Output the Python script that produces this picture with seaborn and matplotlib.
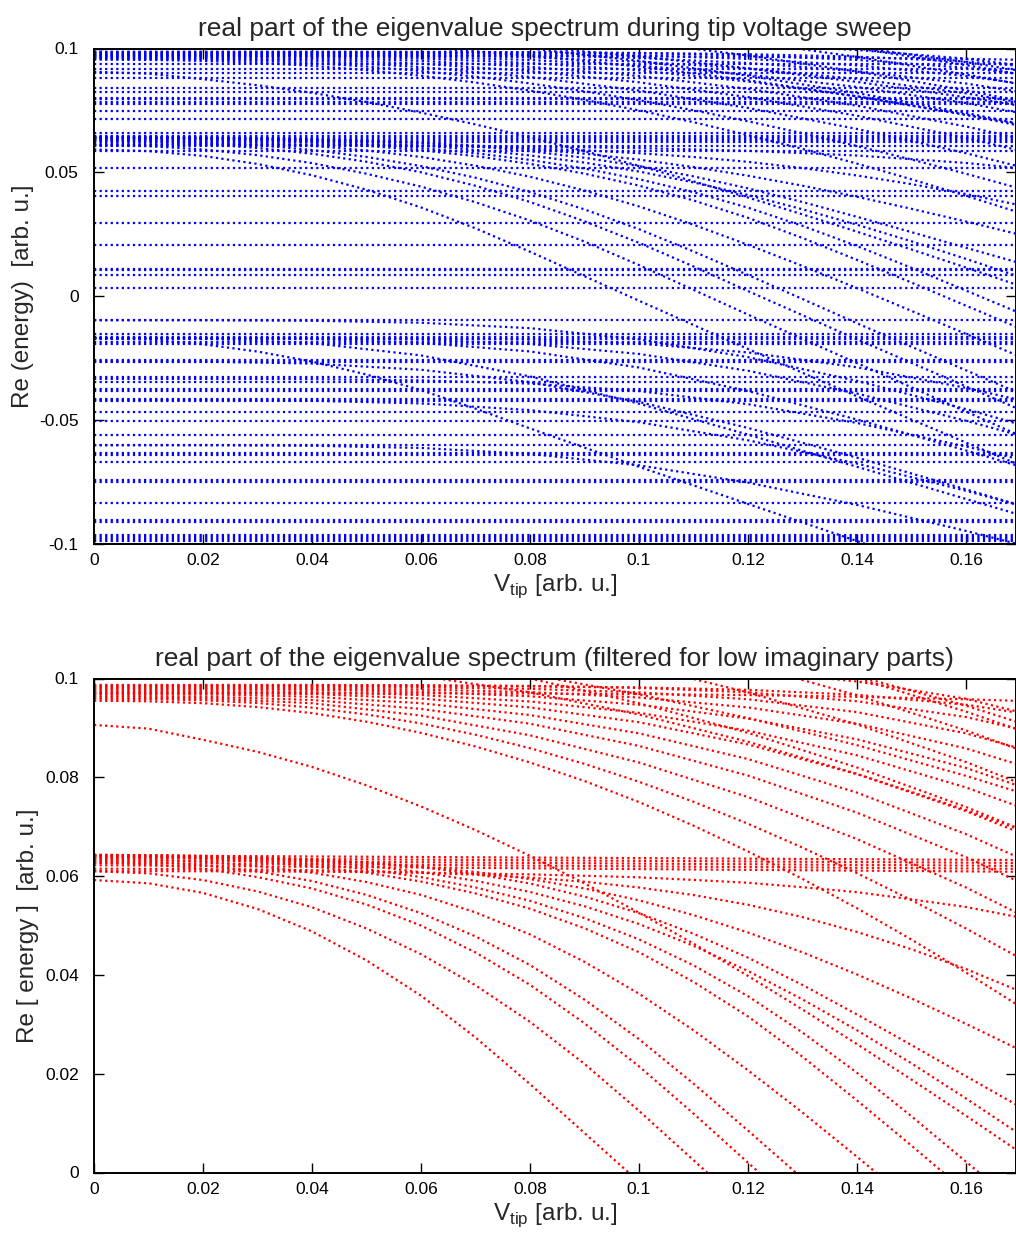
import matplotlib
matplotlib.use("Agg")
import matplotlib.pyplot as plt
import numpy as np
import pandas as pd
import seaborn as sns

# Tip voltage grids on which the branch energies are tabulated
V_FINE = [0.00, 0.01, 0.02, 0.03, 0.04, 0.05, 0.06, 0.07, 0.08, 0.09,
          0.10, 0.11, 0.12, 0.13, 0.14, 0.15, 0.16, 0.17, 0.18]
V_COARSE = [0.00, 0.02, 0.04, 0.06, 0.08, 0.10, 0.12, 0.14, 0.16, 0.18]
V_SPAN = [0.00, 0.18]

# Energies below are in units of 1e-3 arb. u.

# strongly bending branches of the upper cluster (fine grid)
upper_steep = [
    [90.6, 89.85, 87.6, 85.16, 82.1, 78.38, 74.1, 69.32, 64.1, 58.53,
     52.6, 46.34, 39.8, 33.0, 26.0, 18.82, 11.5, 4.03, -3.5],
    [95.5, 95.38, 95.0, 94.22, 93.0, 91.25, 89.0, 86.25, 83.0, 79.25,
     75.0, 70.22, 65.0, 59.44, 53.5, 47.16, 40.5, 33.56, 26.5],
    [95.9, 95.82, 95.6, 95.03, 94.1, 92.72, 90.9, 88.62, 85.9, 82.72,
     79.1, 75.05, 70.6, 65.77, 60.6, 55.14, 49.4, 43.36, 37.2],
]

# gently bending branches of the upper cluster and levels entering from above (coarse grid)
upper_gentle = [
    [96.2, 96.0, 95.0, 92.5, 88.5, 83.0, 76.0, 67.5, 57.7, 46.7],
    [96.5, 96.35, 95.65, 93.85, 90.85, 86.35, 80.35, 72.85, 63.85, 53.55],
    [96.9, 96.8, 96.3, 95.0, 92.6, 88.9, 83.7, 76.9, 68.5, 58.7],
    [97.2, 97.15, 96.85, 95.95, 94.15, 91.15, 86.65, 80.65, 73.15, 64.35],
    [97.5, 97.45, 97.25, 96.65, 95.35, 93.05, 89.45, 84.45, 77.95, 69.95],
    [97.8, 97.8, 97.7, 97.3, 96.4, 94.7, 91.9, 87.7, 81.9, 74.4],
    [98.0, 98.0, 97.95, 97.75, 97.25, 96.15, 94.15, 90.85, 85.85, 79.05],
    [98.3, 98.3, 98.3, 98.2, 97.9, 97.2, 95.8, 93.2, 88.9, 82.7],
    [98.7, 98.7, 98.7, 98.65, 98.5, 98.1, 97.2, 95.4, 92.2, 87.2],
    [98.5, 98.5, 98.5, 98.5, 98.4, 98.2, 97.7, 96.7, 94.7, 91.3],
    [97.0, 97.0, 97.0, 97.0, 96.95, 96.85, 96.65, 96.3, 95.8, 95.1],
    [106.0, 105.8, 105.4, 104.8, 104.0, 103.0, 101.6, 99.4, 95.9, 90.4],
    [110.0, 109.0, 107.0, 104.0, 100.0, 95.0, 89.0, 82.0, 74.0, 65.0],
    [115.0, 114.2, 112.6, 110.2, 106.9, 102.6, 97.2, 90.7, 83.1, 74.4],
    [120.0, 119.2, 117.7, 115.4, 112.2, 108.0, 102.8, 96.6, 89.5, 81.5],
    [108.0, 107.5, 106.2, 104.0, 100.8, 96.8, 92.0, 86.5, 80.3, 73.5],
    [104.0, 103.7, 102.7, 100.5, 97.2, 92.7, 87.2, 80.7, 73.4, 65.4],
    [125.0, 124.0, 122.1, 119.3, 115.7, 111.3, 106.1, 100.1, 93.3, 85.7],
    [118.0, 117.5, 116.5, 114.9, 112.6, 109.5, 105.5, 100.5, 94.5, 87.5],
]

# branches emerging from the lower cluster (~0.063), fine grid
lower_branches = [
    [59.2, 58.55, 56.6, 53.35, 48.8, 42.95, 35.8, 27.35, 17.9, 8.0,
     -1.9, -11.7, -21.4, -31.0, -40.5, -49.9, -59.2, -68.4, -77.5],
    [61.0, 60.55, 59.2, 56.9, 53.7, 49.4, 44.2, 37.9, 30.5, 22.0,
     12.5, 2.5, -7.5, -17.3, -27.1, -36.9, -46.7, -56.5, -66.3],
    [62.7, 62.4, 61.5, 59.8, 57.5, 54.25, 50.0, 44.55, 38.0, 30.2,
     21.5, 11.95, 2.0, -7.75, -17.5, -27.0, -36.5, -46.0, -55.5],
    [63.1, 62.9, 62.2, 60.95, 59.0, 56.2, 52.5, 47.8, 42.0, 35.0,
     27.0, 18.0, 8.5, -1.2, -11.0, -20.5, -30.0, -39.5, -49.0],
    [63.5, 63.35, 62.9, 62.05, 60.7, 58.8, 56.2, 52.65, 48.2, 42.65,
     36.2, 28.8, 20.7, 12.15, 3.2, -6.0, -15.3, -24.55, -33.8],
    [63.9, 63.8, 63.5, 62.9, 62.0, 60.7, 58.9, 56.5, 53.4, 49.45,
     44.6, 38.6, 31.6, 23.45, 14.6, 5.45, -3.9, -13.15, -22.4],
    [64.0, 63.92, 63.7, 63.25, 62.5, 61.4, 59.8, 57.7, 55.0, 51.5,
     47.2, 41.95, 35.7, 28.35, 20.2, 11.4, 2.2, -7.0, -16.3],
    [64.3, 64.22, 64.0, 63.62, 63.0, 62.1, 60.8, 59.05, 56.8, 53.9,
     50.3, 45.9, 40.8, 35.05, 28.8, 22.1, 15.0, 7.65, 0.2],
    [64.3, 64.25, 64.1, 63.84, 63.4, 62.76, 61.8, 60.43, 58.5, 55.86,
     52.5, 48.34, 43.5, 37.97, 32.0, 25.81, 19.5, 13.25, 7.0],
    [64.0, 63.95, 63.8, 63.57, 63.2, 62.67, 61.9, 60.84, 59.4, 57.5,
     55.1, 52.11, 48.6, 44.57, 40.1, 35.24, 30.1, 24.75, 19.3],
    [61.5, 61.47, 61.4, 61.32, 61.2, 61.0, 60.7, 60.29, 59.7, 58.86,
     57.7, 56.17, 54.2, 51.7, 48.7, 45.2, 41.2, 36.64, 31.7],
    [61.0, 60.995, 60.98, 60.945, 60.9, 60.81, 60.7, 60.53, 60.35, 60.07,
     59.75, 59.23, 58.65, 57.75, 56.75, 55.3, 53.75, 51.6, 49.35],
]

# steepest branch leaving the -0.017 band (fine grid, full spectrum only)
negative_steep = [
    [-17.0, -17.6, -19.5, -22.44, -26.5, -31.72, -38.0, -45.5, -53.5, -61.25,
     -69.0, -76.5, -84.0, -91.5, -99.0, -106.5, -114.0, -121.5, -129.0],
]

# other branches leaving the negative-energy bands (coarse grid, full spectrum only)
negative_gentle = [
    [-17.0, -17.2, -19.0, -24.0, -32.5, -43.5, -56.0, -69.0, -82.0, -95.0],
    [-17.0, -17.0, -17.4, -18.9, -22.4, -28.9, -38.4, -49.9, -62.4, -75.4],
    [-17.0, -17.0, -17.1, -17.6, -19.4, -23.4, -30.2, -39.4, -50.4, -62.4],
    [-26.4, -26.5, -27.3, -29.8, -34.8, -42.8, -53.3, -65.3, -78.1, -91.1],
    [-9.8, -9.8, -10.0, -10.8, -13.0, -17.5, -24.7, -34.3, -45.7, -58.2],
    [-42.0, -42.0, -42.3, -43.4, -46.1, -51.0, -58.3, -67.7, -78.7, -90.7],
    [-60.3, -60.3, -60.5, -61.4, -63.8, -68.4, -75.4, -84.4, -94.9, -106.1],
    [-17.0, -17.0, -17.0, -17.1, -17.6, -19.2, -22.8, -28.8, -37.1, -47.1],
    [-33.5, -33.5, -33.6, -34.1, -35.4, -38.4, -43.7, -51.3, -60.8, -71.3],
]

# levels that stay (nearly) constant over the whole sweep
flat_levels = [
    93.9, 91.9, 89.9, 87.9, 84.2, 82.6, 80.2, 79.4, 78.5, 77.7, 74.9, 71.7,
    66.0, 64.8, 64.0, 63.2, 62.3, 60.7, 58.7, 51.7, 42.5, 40.5, 29.3, 20.6,
    11.1, 10.5, 8.4, 3.1, -9.8, -15.5, -16.5, -17.5, -18.5, -19.4, -26.0,
    -26.8, -32.8, -34.7, -37.4, -38.2, -41.8, -42.6, -46.8, -50.6, -56.0,
    -60.3, -63.3, -64.1, -67.1, -74.5, -75.3, -83.7, -90.4, -91.2, -96.4,
    -97.2, -98.0, -98.8,
]

# slowly drifting levels inside the lower cluster (filtered spectrum)
band_start = [64.2, 63.7, 63.2, 62.7, 62.2]
band_end = [63.2, 62.6, 62.0, 61.4, 60.8]


def long_table(curves, grid):
    rows = []
    for k, energies in enumerate(curves):
        for v, e in zip(grid, energies):
            rows.append((k, v, e * 1e-3))
    return pd.DataFrame(rows, columns=["curve", "V", "E"])


def draw(ax, table, color, lw=1.6):
    n_before = len(ax.lines)
    sns.lineplot(data=table, x="V", y="E", units="curve", estimator=None,
                 sort=False, color=color, lw=lw, ax=ax, legend=False)
    for ln in ax.lines[n_before:]:
        ln.set_dashes([1.0, 1.5])
        ln.set_dash_capstyle("butt")


sns.set_style("ticks")
plt.rcParams["font.family"] = ["Liberation Sans", "DejaVu Sans"]
plt.rcParams["mathtext.fontset"] = "custom"
plt.rcParams["mathtext.rm"] = "Liberation Sans"
plt.rcParams["xtick.direction"] = "in"
plt.rcParams["ytick.direction"] = "in"

W, H = 1016, 1239
fig = plt.figure(figsize=(W / 100, H / 100), dpi=100)
ax_top = fig.add_axes([94 / W, 1 - 543.5 / H, (1015.5 - 94) / W, (543.5 - 48.5) / H])
ax_bot = fig.add_axes([94 / W, 1 - 1172.5 / H, (1015.5 - 94) / W, (1172.5 - 678.5) / H])

BLUE, RED = "#0000ff", "#ff0000"

# full spectrum
flat_curves = [[e, e] for e in flat_levels]
draw(ax_top, long_table(flat_curves, V_SPAN), BLUE)
draw(ax_top, long_table(negative_steep, V_FINE), BLUE)
draw(ax_top, long_table(negative_gentle, V_COARSE), BLUE)
draw(ax_top, long_table(lower_branches, V_FINE), BLUE)
draw(ax_top, long_table(upper_steep, V_FINE), BLUE)
draw(ax_top, long_table(upper_gentle, V_COARSE), BLUE)

# filtered spectrum
band_curves = [[a, b] for a, b in zip(band_start, band_end)]
draw(ax_bot, long_table(band_curves, V_SPAN), RED)
draw(ax_bot, long_table(lower_branches, V_FINE), RED)
draw(ax_bot, long_table(upper_steep, V_FINE), RED)
draw(ax_bot, long_table(upper_gentle, V_COARSE), RED)

x_ticks = [0, 0.02, 0.04, 0.06, 0.08, 0.10, 0.12, 0.14, 0.16]
x_labels = ["0", "0.02", "0.04", "0.06", "0.08", "0.1", "0.12", "0.14", "0.16"]

for ax in (ax_top, ax_bot):
    ax.set_xlim(0, 0.1691)
    ax.set_xticks(x_ticks)
    ax.set_xticklabels(x_labels)
    ax.tick_params(axis="both", which="both", direction="in", length=7, width=1.0,
                   top=True, right=True, labelsize=12.5, colors="black")
    ax.tick_params(axis="y", pad=11)
    ax.tick_params(axis="x", pad=7)
    for sp in ax.spines.values():
        sp.set_visible(True)
        sp.set_linewidth(1.4)
        sp.set_color("black")
    ax.set_xlabel(r"V$_{\mathrm{tip}}$ [arb. u.]", fontsize=17.5, labelpad=3)

ax_top.set_ylim(-0.1, 0.1)
ax_top.set_yticks([-0.1, -0.05, 0, 0.05, 0.1])
ax_top.set_yticklabels(["-0.1", "-0.05", "0", "0.05", "0.1"])
ax_top.set_ylabel("Re (energy)  [arb. u.]", fontsize=17.5, labelpad=4)
ax_top.set_title("real part of the eigenvalue spectrum during tip voltage sweep",
                 fontsize=19, pad=9)

ax_bot.set_ylim(0, 0.1)
ax_bot.set_yticks([0, 0.02, 0.04, 0.06, 0.08, 0.1])
ax_bot.set_yticklabels(["0", "0.02", "0.04", "0.06", "0.08", "0.1"])
ax_bot.set_ylabel("Re [ energy ]  [arb. u.]", fontsize=17.5, labelpad=4)
ax_bot.set_title("real part of the eigenvalue spectrum (filtered for low imaginary parts)",
                 fontsize=19, pad=9)

fig.savefig("out.png", dpi=100)
